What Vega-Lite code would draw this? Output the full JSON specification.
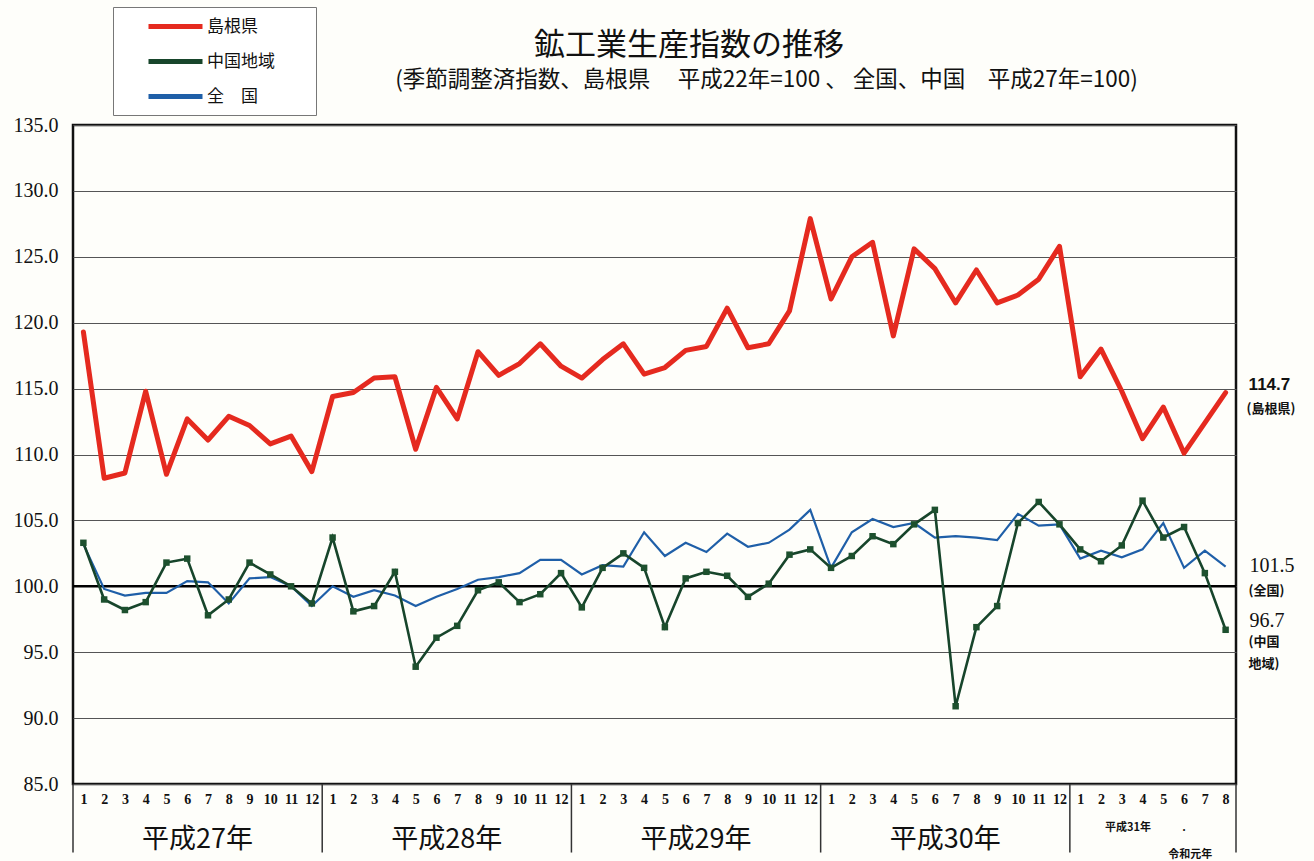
{
  "$schema": "https://vega.github.io/schema/vega-lite/v6.json",
  "width": 1163,
  "height": 659,
  "autosize": "none",
  "padding": {"left": 73, "top": 125, "right": 78, "bottom": 77},
  "background": "#fefefa",
  "config": {
    "view": {"stroke": "#111", "strokeWidth": 2.5},
    "font": "Noto Sans CJK JP",
    "axisX": {"tickCount": 60, "labelOverlap": false, "labelSeparation": 0}
  },
  "title": {
    "text": "鉱工業生産指数の推移　　　　　\u200b",
    "subtitle": "(季節調整済指数、島根県　 平成22年=100 、 全国、中国　平成27年=100)",
    "anchor": "middle",
    "frame": "group",
    "dx": 112,
    "font": "Noto Sans CJK JP",
    "fontSize": 31,
    "fontWeight": "normal",
    "subtitleFont": "Noto Sans CJK JP",
    "subtitleFontSize": 22.5,
    "subtitleColor": "#111",
    "color": "#111",
    "offset": -86,
    "subtitlePadding": 7
  },
  "datasets": {
    "main": [
      {"i":0,"島根県":119.3,"中国地域":103.3,"全国":103.2},
      {"i":1,"島根県":108.2,"中国地域":99.0,"全国":99.8},
      {"i":2,"島根県":108.6,"中国地域":98.2,"全国":99.3},
      {"i":3,"島根県":114.8,"中国地域":98.8,"全国":99.5},
      {"i":4,"島根県":108.5,"中国地域":101.8,"全国":99.5},
      {"i":5,"島根県":112.7,"中国地域":102.1,"全国":100.4},
      {"i":6,"島根県":111.1,"中国地域":97.8,"全国":100.3},
      {"i":7,"島根県":112.9,"中国地域":99.0,"全国":98.7},
      {"i":8,"島根県":112.2,"中国地域":101.8,"全国":100.6},
      {"i":9,"島根県":110.8,"中国地域":100.9,"全国":100.7},
      {"i":10,"島根県":111.4,"中国地域":100.0,"全国":100.0},
      {"i":11,"島根県":108.7,"中国地域":98.7,"全国":98.5},
      {"i":12,"島根県":114.4,"中国地域":103.7,"全国":100.0},
      {"i":13,"島根県":114.7,"中国地域":98.1,"全国":99.2},
      {"i":14,"島根県":115.8,"中国地域":98.5,"全国":99.7},
      {"i":15,"島根県":115.9,"中国地域":101.1,"全国":99.3},
      {"i":16,"島根県":110.4,"中国地域":93.9,"全国":98.5},
      {"i":17,"島根県":115.1,"中国地域":96.1,"全国":99.2},
      {"i":18,"島根県":112.7,"中国地域":97.0,"全国":99.8},
      {"i":19,"島根県":117.8,"中国地域":99.7,"全国":100.5},
      {"i":20,"島根県":116.0,"中国地域":100.3,"全国":100.7},
      {"i":21,"島根県":116.9,"中国地域":98.8,"全国":101.0},
      {"i":22,"島根県":118.4,"中国地域":99.4,"全国":102.0},
      {"i":23,"島根県":116.7,"中国地域":101.0,"全国":102.0},
      {"i":24,"島根県":115.8,"中国地域":98.4,"全国":100.9},
      {"i":25,"島根県":117.2,"中国地域":101.4,"全国":101.6},
      {"i":26,"島根県":118.4,"中国地域":102.5,"全国":101.5},
      {"i":27,"島根県":116.1,"中国地域":101.4,"全国":104.1},
      {"i":28,"島根県":116.6,"中国地域":96.9,"全国":102.3},
      {"i":29,"島根県":117.9,"中国地域":100.6,"全国":103.3},
      {"i":30,"島根県":118.2,"中国地域":101.1,"全国":102.6},
      {"i":31,"島根県":121.1,"中国地域":100.8,"全国":104.0},
      {"i":32,"島根県":118.1,"中国地域":99.2,"全国":103.0},
      {"i":33,"島根県":118.4,"中国地域":100.2,"全国":103.3},
      {"i":34,"島根県":120.9,"中国地域":102.4,"全国":104.3},
      {"i":35,"島根県":127.9,"中国地域":102.8,"全国":105.8},
      {"i":36,"島根県":121.8,"中国地域":101.4,"全国":101.4},
      {"i":37,"島根県":125.0,"中国地域":102.3,"全国":104.1},
      {"i":38,"島根県":126.1,"中国地域":103.8,"全国":105.1},
      {"i":39,"島根県":119.0,"中国地域":103.2,"全国":104.5},
      {"i":40,"島根県":125.6,"中国地域":104.7,"全国":104.8},
      {"i":41,"島根県":124.1,"中国地域":105.8,"全国":103.7},
      {"i":42,"島根県":121.5,"中国地域":90.9,"全国":103.8},
      {"i":43,"島根県":124.0,"中国地域":96.9,"全国":103.7},
      {"i":44,"島根県":121.5,"中国地域":98.5,"全国":103.5},
      {"i":45,"島根県":122.1,"中国地域":104.8,"全国":105.5},
      {"i":46,"島根県":123.3,"中国地域":106.4,"全国":104.6},
      {"i":47,"島根県":125.8,"中国地域":104.7,"全国":104.7},
      {"i":48,"島根県":115.9,"中国地域":102.8,"全国":102.1},
      {"i":49,"島根県":118.0,"中国地域":101.9,"全国":102.7},
      {"i":50,"島根県":114.8,"中国地域":103.1,"全国":102.2},
      {"i":51,"島根県":111.2,"中国地域":106.5,"全国":102.8},
      {"i":52,"島根県":113.6,"中国地域":103.7,"全国":104.8},
      {"i":53,"島根県":110.1,"中国地域":104.5,"全国":101.4},
      {"i":54,"島根県":112.4,"中国地域":101.0,"全国":102.7},
      {"i":55,"島根県":114.7,"中国地域":96.7,"全国":101.5}
    ],
    "seps": [{"b": -0.5}, {"b": 11.5}, {"b": 23.5}, {"b": 35.5}, {"b": 47.5}, {"b": 55.5}],
    "years": [
      {"c": 5.5, "t": "平成27年"},
      {"c": 17.5, "t": "平成28年"},
      {"c": 29.5, "t": "平成29年"},
      {"c": 41.5, "t": "平成30年"}
    ],
    "small1": [{"c": 50.3, "t": "平成31年"}, {"c": 53.0, "t": "."}],
    "small2": [{"c": 53.3, "t": "令和元年"}]
  },
  "layer": [
    {
      "data": {"values": [{}]},
      "mark": {"type": "rule", "color": "#000", "strokeWidth": 2.5},
      "encoding": {
        "y": {
          "datum": 100, "type": "quantitative",
          "scale": {"domain": [85, 135], "nice": false, "zero": false},
          "axis": {
            "values": [85, 90, 95, 100, 105, 110, 115, 120, 125, 130, 135],
            "format": ".1f",
            "labelFont": "Liberation Serif",
            "labelFontSize": 20,
            "labelColor": "#111",
            "ticks": false,
            "domain": false,
            "labelPadding": 15,
            "grid": true,
            "gridColor": "#555",
            "gridWidth": 1.2,
            "title": null
          }
        }
      }
    },
    {
      "data": {"name": "main"},
      "transform": [{"fold": ["全国"], "as": ["s", "v"]}],
      "mark": {"type": "line", "strokeWidth": 2.2},
      "encoding": {
        "x": {
          "field": "i", "type": "quantitative",
          "scale": {"domain": [-0.5, 55.5], "nice": false, "zero": false},
          "axis": {
            "values": [0,1,2,3,4,5,6,7,8,9,10,11,12,13,14,15,16,17,18,19,20,21,22,23,24,25,26,27,28,29,30,31,32,33,34,35,36,37,38,39,40,41,42,43,44,45,46,47,48,49,50,51,52,53,54,55],
            "labelExpr": "(datum.value % 12) + 1",
            "labelFont": "Liberation Serif",
            "labelFontWeight": "bold",
            "labelFontSize": 14,
            "labelColor": "#111",
            "ticks": false,
            "domain": false,
            "grid": false,
            "labelPadding": 8,
            "labelAngle": 0,
            "labelOverlap": false,
            "labelFlush": false,
            "title": null
          }
        },
        "y": {"field": "v", "type": "quantitative"},
        "color": {"field": "s", "type": "nominal", "scale": {"domain": ["島根県", "中国地域", "全国"], "range": ["#e52a1f", "#17452b", "#1f5fa8"]}}
      }
    },
    {
      "data": {"name": "main"},
      "transform": [{"fold": ["中国地域"], "as": ["s", "v"]}],
      "mark": {"type": "line", "strokeWidth": 2.6},
      "encoding": {
        "x": {"field": "i", "type": "quantitative"},
        "y": {"field": "v", "type": "quantitative"},
        "color": {"field": "s", "type": "nominal", "scale": {"domain": ["島根県", "中国地域", "全国"], "range": ["#e52a1f", "#17452b", "#1f5fa8"]}}
      }
    },
    {
      "data": {"name": "main"},
      "mark": {"type": "point", "shape": "square", "filled": true, "size": 42, "color": "#1d502e", "opacity": 1},
      "encoding": {
        "x": {"field": "i", "type": "quantitative"},
        "y": {"field": "中国地域", "type": "quantitative"}
      }
    },
    {
      "data": {"name": "main"},
      "transform": [{"fold": ["島根県"], "as": ["s", "v"]}],
      "mark": {"type": "line", "strokeWidth": 5, "strokeJoin": "round", "strokeCap": "round"},
      "encoding": {
        "x": {"field": "i", "type": "quantitative"},
        "y": {"field": "v", "type": "quantitative"},
        "color": {
          "field": "s", "type": "nominal",
          "scale": {"domain": ["島根県", "中国地域", "全国"], "range": ["#e52a1f", "#17452b", "#1f5fa8"]},
          "legend": {
            "orient": "none", "legendX": 40, "legendY": -118,
            "title": null,
            "symbolType": "M-3,0H3", "symbolSize": 324, "symbolStrokeWidth": 5,
            "labelFont": "Noto Sans CJK JP", "labelFontSize": 17, "labelColor": "#111",
            "padding": 8, "symbolOffset": 43, "labelOffset": 20, "rowPadding": 13,
            "strokeColor": "#777", "fillColor": "#ffffff",
            "labelExpr": "datum.label == '全国' ? '全　国　\u3164' : datum.label + '　\u3164'"
          }
        }
      }
    },
    {
      "data": {"name": "seps"},
      "mark": {"type": "rule", "color": "#333", "strokeWidth": 1.5},
      "encoding": {
        "x": {"field": "b", "type": "quantitative"},
        "y": {"datum": 85, "type": "quantitative"},
        "y2": {"datum": 79.8}
      }
    },
    {
      "data": {"name": "years"},
      "mark": {"type": "text", "fontSize": 27, "dy": 56, "baseline": "middle", "color": "#111", "font": "Noto Sans CJK JP"},
      "encoding": {
        "x": {"field": "c", "type": "quantitative"},
        "y": {"datum": 85, "type": "quantitative"},
        "text": {"field": "t"}
      }
    },
    {
      "data": {"name": "small1"},
      "mark": {"type": "text", "fontSize": 11, "fontWeight": "bold", "dy": 44, "baseline": "middle", "color": "#111", "font": "Noto Sans CJK JP"},
      "encoding": {
        "x": {"field": "c", "type": "quantitative"},
        "y": {"datum": 85, "type": "quantitative"},
        "text": {"field": "t"}
      }
    },
    {
      "data": {"name": "small2"},
      "mark": {"type": "text", "fontSize": 11, "fontWeight": "bold", "dy": 71, "baseline": "middle", "color": "#111", "font": "Noto Sans CJK JP"},
      "encoding": {
        "x": {"field": "c", "type": "quantitative"},
        "y": {"datum": 85, "type": "quantitative"},
        "text": {"field": "t"}
      }
    },
    {
      "data": {"name": "main"},
      "transform": [{"filter": "datum.i == 55"}],
      "mark": {"type": "text", "align": "left", "dx": 23, "dy": -8, "baseline": "middle", "font": "Liberation Sans", "fontWeight": "bold", "fontSize": 17, "color": "#111"},
      "encoding": {
        "x": {"field": "i", "type": "quantitative"},
        "y": {"field": "島根県", "type": "quantitative"},
        "text": {"field": "島根県", "type": "quantitative", "format": ".1f"}
      }
    },
    {
      "data": {"name": "main"},
      "transform": [{"filter": "datum.i == 55"}],
      "mark": {"type": "text", "align": "left", "dx": 21, "dy": 16, "baseline": "middle", "font": "Noto Sans CJK JP", "fontWeight": "bold", "fontSize": 13, "color": "#111"},
      "encoding": {
        "x": {"field": "i", "type": "quantitative"},
        "y": {"field": "島根県", "type": "quantitative"},
        "text": {"value": "(島根県)"}
      }
    },
    {
      "data": {"name": "main"},
      "transform": [{"filter": "datum.i == 55"}],
      "mark": {"type": "text", "align": "left", "dx": 24, "dy": -1, "baseline": "middle", "font": "Liberation Serif", "fontSize": 20, "color": "#111"},
      "encoding": {
        "x": {"field": "i", "type": "quantitative"},
        "y": {"field": "全国", "type": "quantitative"},
        "text": {"field": "全国", "type": "quantitative", "format": ".1f"}
      }
    },
    {
      "data": {"name": "main"},
      "transform": [{"filter": "datum.i == 55"}],
      "mark": {"type": "text", "align": "left", "dx": 23, "dy": 24, "baseline": "middle", "font": "Noto Sans CJK JP", "fontWeight": "bold", "fontSize": 13, "color": "#111"},
      "encoding": {
        "x": {"field": "i", "type": "quantitative"},
        "y": {"field": "全国", "type": "quantitative"},
        "text": {"value": "(全国)"}
      }
    },
    {
      "data": {"name": "main"},
      "transform": [{"filter": "datum.i == 55"}],
      "mark": {"type": "text", "align": "left", "dx": 24, "dy": -9, "baseline": "middle", "font": "Liberation Serif", "fontSize": 20, "color": "#111"},
      "encoding": {
        "x": {"field": "i", "type": "quantitative"},
        "y": {"field": "中国地域", "type": "quantitative"},
        "text": {"field": "中国地域", "type": "quantitative", "format": ".1f"}
      }
    },
    {
      "data": {"name": "main"},
      "transform": [{"filter": "datum.i == 55"}],
      "mark": {"type": "text", "align": "left", "dx": 23, "dy": 6, "baseline": "top", "lineBreak": "\n", "lineHeight": 22, "font": "Noto Sans CJK JP", "fontWeight": "bold", "fontSize": 13, "color": "#111"},
      "encoding": {
        "x": {"field": "i", "type": "quantitative"},
        "y": {"field": "中国地域", "type": "quantitative"},
        "text": {"value": "(中国\n地域)"}
      }
    }
  ]
}
